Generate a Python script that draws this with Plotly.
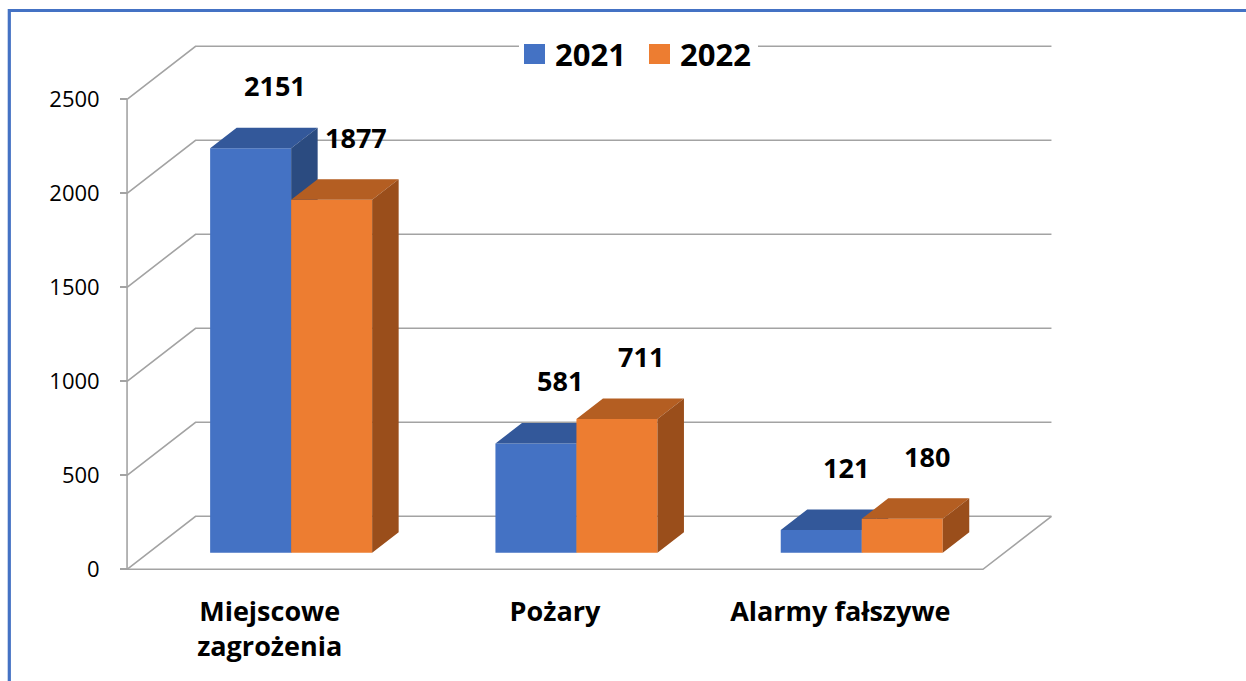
import plotly.graph_objects as go

# ---------------- data ----------------
categories = ["Miejscowe zagrożenia", "Pożary", "Alarmy fałszywe"]
category_labels = ["Miejscowe<br>zagrożenia", "Pożary", "Alarmy fałszywe"]
series_names = ["2021", "2022"]
values_2021 = [2151, 581, 121]
values_2022 = [1877, 711, 180]
y_ticks = [0, 500, 1000, 1500, 2000, 2500]

# ---------------- layout constants (pixels) ----------------
W, H = 1246, 681
PX_PER_CAT = 285.3
PX_PER_VAL = 0.188
CAT0_PX = 269.7          # pixel x of first category centre (front plane)
ZERO_PX = 569.3          # pixel y of value 0 (front plane)

X_RANGE = [(0 - CAT0_PX) / PX_PER_CAT, (W - CAT0_PX) / PX_PER_CAT]
Y_RANGE = [(ZERO_PX - H) / PX_PER_VAL, ZERO_PX / PX_PER_VAL]

DX = 68.5 / PX_PER_CAT   # full depth in x (category units)
DY = 53.0 / PX_PER_VAL   # full depth in y (value units)
F0, F1 = 0.313, 0.70     # bar front / back depth fraction
BAR_W = 81.0 / PX_PER_CAT

GRID = "#a3a3a3"
FONT = "Open Sans"
colors = {
    "2021": {"front": "#4472C4", "top": "#33589A", "side": "#2B4B80"},
    "2022": {"front": "#ED7D31", "top": "#B45E22", "side": "#9A4E1B"},
}

fig = go.Figure()

# ---------------- walls / grid ----------------
n = len(categories)
xl, xr = -0.5, n - 0.5
gx, gy = [], []
for v in y_ticks:
    gx += [xl, xl + DX, xr + DX, None]
    gy += [v, v + DY, v + DY, None]
# floor front + right edge
gx += [xl, xr, xr + DX, None]
gy += [0, 0, DY, None]
# front vertical axis line
gx += [xl, xl, None]
gy += [0, y_ticks[-1], None]
fig.add_trace(go.Scatter(x=gx, y=gy, mode="lines", line=dict(color=GRID, width=1.6),
                         hoverinfo="skip", showlegend=False))

# ---------------- 3D bars ----------------
ddx = (F1 - F0) * DX
ddy = (F1 - F0) * DY
base = F0 * DY


def faces(values, side_sign):
    fx, fy, tx, ty, sx, sy = [], [], [], [], [], []
    for i, v in enumerate(values):
        c = i + F0 * DX
        a = c - BAR_W if side_sign < 0 else c
        b = a + BAR_W
        top = base + v
        fx += [a, b, b, a, a, None]
        fy += [base, base, top, top, base, None]
        tx += [a, b, b + ddx, a + ddx, a, None]
        ty += [top, top, top + ddy, top + ddy, top, None]
        sx += [b, b + ddx, b + ddx, b, b, None]
        sy += [base, base + ddy, top + ddy, top, base, None]
    return (fx, fy), (tx, ty), (sx, sy)


label_x, label_y, label_t = [], [], []
for name, vals, sgn in [("2021", values_2021, -1), ("2022", values_2022, 1)]:
    front, topf, side = faces(vals, sgn)
    col = colors[name]
    for (xs, ys), key in [(front, "front"), (topf, "top"), (side, "side")]:
        fig.add_trace(go.Scatter(x=xs, y=ys, mode="lines", fill="toself",
                                 fillcolor=col[key], line=dict(width=0, color=col[key]),
                                 name=name, hoverinfo="skip", showlegend=False))
    for i, v in enumerate(vals):
        c = i + F0 * DX
        a = c - BAR_W if sgn < 0 else c
        label_x.append(a + BAR_W / 2 + ddx)
        label_y.append(base + v + ddy)
        label_t.append(str(v))

for x, y, t in zip(label_x, label_y, label_t):
    fig.add_annotation(x=x, y=y, text=t, showarrow=False, yshift=42, xshift=-2,
                       yanchor="middle",
                       font=dict(family=FONT, size=27, color="black", weight="bold"))

# ---------------- legend (manual) ----------------
def px_x(p):
    return p / W


def px_y(p):
    return 1 - p / H


shapes = [
    dict(type="rect", xref="paper", yref="paper", x0=px_x(519), x1=px_x(758),
         y0=px_y(72), y1=px_y(36), fillcolor="white", line=dict(width=0), layer="above"),
    dict(type="rect", xref="paper", yref="paper", x0=px_x(524), x1=px_x(545),
         y0=px_y(64), y1=px_y(44), fillcolor=colors["2021"]["front"], line=dict(width=0), layer="above"),
    dict(type="rect", xref="paper", yref="paper", x0=px_x(649), x1=px_x(670),
         y0=px_y(64), y1=px_y(44), fillcolor=colors["2022"]["front"], line=dict(width=0), layer="above"),
    # outer blue frame
    dict(type="rect", xref="paper", yref="paper", x0=px_x(9.3), x1=1.05,
         y0=-0.05, y1=px_y(10.5), fillcolor="rgba(0,0,0,0)",
         line=dict(color="#4472C4", width=3.2), layer="above"),
]
for name, xp in [("2021", 553), ("2022", 678)]:
    fig.add_annotation(xref="paper", yref="paper", x=px_x(xp), y=px_y(54), text=name,
                       showarrow=False, xanchor="left", yanchor="middle",
                       font=dict(family=FONT, size=31, color="black", weight="bold"))

fig.update_layout(
    width=W, height=H,
    margin=dict(l=0, r=0, t=0, b=0, pad=0),
    paper_bgcolor="white", plot_bgcolor="white",
    shapes=shapes,
    showlegend=False,
    xaxis=dict(range=X_RANGE, showgrid=False, zeroline=False, showline=False,
               tickmode="array", tickvals=list(range(n)), ticktext=category_labels,
               ticks="", anchor="free", position=(H - ZERO_PX) / H,
               ticklabelstandoff=24,
               tickfont=dict(family=FONT, size=27, color="black", weight="bold")),
    yaxis=dict(range=Y_RANGE, showgrid=False, zeroline=False, showline=False,
               tickmode="array", tickvals=y_ticks, ticktext=[str(v) for v in y_ticks],
               ticks="outside", ticklen=7, tickcolor=GRID, tickwidth=1.6,
               anchor="free", position=(xl - X_RANGE[0]) / (X_RANGE[1] - X_RANGE[0]),
               ticklabelstandoff=16,
               tickfont=dict(family=FONT, size=22, color="black")),
)

fig.write_html("out.html", config={"displayModeBar": False},
               post_script="document.body.style.margin='0';")
